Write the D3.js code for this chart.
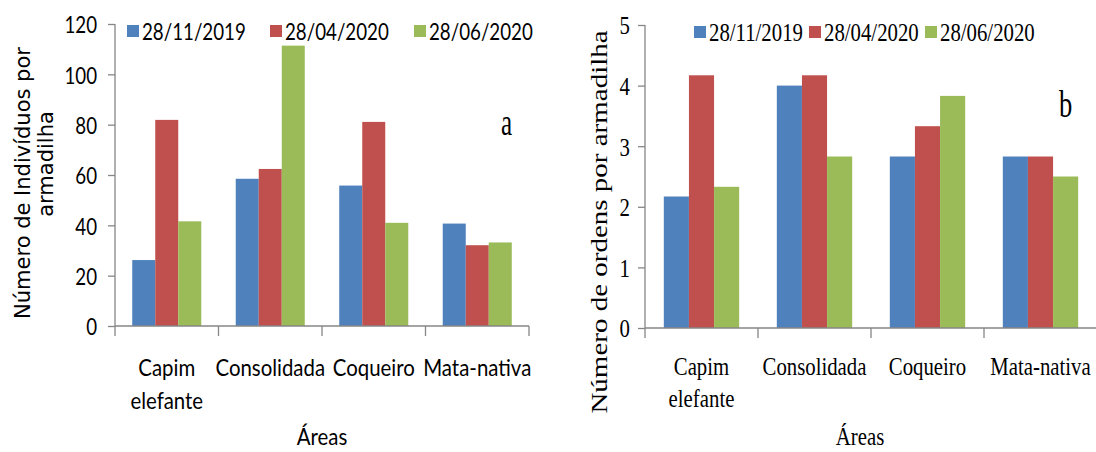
<!DOCTYPE html>
<html>
<head>
<meta charset="utf-8">
<script src="https://cdn.jsdelivr.net/npm/d3@7"></script>
<style>
  html, body { margin: 0; padding: 0; background: #fff; }
  svg { display: block; }
</style>
</head>
<body>
<svg id="chart" width="1096" height="452"></svg>
<script>
// ---- data ----
const categories = ["Capim elefante", "Consolidada", "Coqueiro", "Mata-nativa"];
const categoryLines = [["Capim", "elefante"], ["Consolidada"], ["Coqueiro"], ["Mata-nativa"]];
const dates = ["28/11/2019", "28/04/2020", "28/06/2020"];

// (a) individuals per trap
const individuos_20191128 = [26.2, 58.5, 55.8, 40.7];
const individuos_20200428 = [81.9, 62.4, 81.1, 32.1];
const individuos_20200628 = [41.6, 111.4, 41.0, 33.2];
const ticksA = [0, 20, 40, 60, 80, 100, 120];

// (b) orders per trap
const ordens_20191128 = [2.17, 4.0, 2.83, 2.83];
const ordens_20200428 = [4.17, 4.17, 3.33, 2.83];
const ordens_20200628 = [2.33, 2.83, 3.83, 2.5];
const ticksB = [0, 1, 2, 3, 4, 5];

const colors = ["#4F81BD", "#C0504D", "#9BBB59"];
const axisColor = "#868686";

const svg = d3.select("#chart");

function txt(g, x, y, s, o) {
  const t = g.append("text")
    .attr("transform", `translate(${x},${y})` + (o.rotate ? " scale(" + (o.sx || 1) + ",1) rotate(-90)" : " scale(" + (o.sx || 1) + ",1)"))
    .attr("font-family", o.font)
    .attr("font-size", o.size)
    .attr("text-anchor", o.anchor || "middle")
    .attr("fill", "#000")
    .text(s);
  if (o.baseline) t.attr("dominant-baseline", o.baseline);
  return t;
}

function panel(cfg) {
  const g = svg.append("g");
  const x0 = d3.scaleBand().domain(categories).range([cfg.left, cfg.right]).paddingInner(0).paddingOuter(0);
  const bw = x0.bandwidth();
  const x1 = d3.scaleBand().domain(dates)
    .range([bw * (1 - cfg.groupFrac) / 2, bw * (1 + cfg.groupFrac) / 2]).padding(0);
  const y = d3.scaleLinear().domain(cfg.domain).range([cfg.bottom, cfg.top]);

  // bars
  const rows = categories.map((c, i) => ({ c, vals: cfg.series.map((s, j) => ({ d: dates[j], v: s[i], k: j })) }));
  g.selectAll("g.grp").data(rows).join("g")
    .attr("transform", d => `translate(${x0(d.c)},0)`)
    .selectAll("rect").data(d => d.vals).join("rect")
    .attr("x", d => x1(d.d))
    .attr("width", x1.bandwidth())
    .attr("y", d => y(d.v))
    .attr("height", d => y(0) - y(d.v))
    .attr("fill", d => colors[d.k]);

  // y axis
  const ya = g.append("g").attr("transform", `translate(${cfg.left},0)`)
    .call(d3.axisLeft(y).tickValues(cfg.ticks).tickSize(cfg.ytick).tickFormat(d3.format("d")));
  ya.select(".domain").attr("stroke", axisColor).attr("stroke-width", 1.3)
    .attr("d", `M0,${cfg.top}V${cfg.bottom}`);
  ya.selectAll(".tick line").attr("stroke", axisColor).attr("stroke-width", 1.3);
  ya.selectAll(".tick text").each(function () {
    const t = d3.select(this);
    t.attr("x", null).attr("dy", null)
      .attr("transform", `translate(${-cfg.labelGap},0) scale(${cfg.numSx},1)`)
      .attr("dominant-baseline", "central")
      .attr("font-family", cfg.font).attr("font-size", cfg.tickSize)
      .attr("fill", "#000").attr("text-anchor", "end");
  });

  // x axis
  const xa = g.append("g").attr("transform", `translate(0,${cfg.bottom})`);
  xa.append("line").attr("x1", cfg.left).attr("x2", cfg.right).attr("y1", 0).attr("y2", 0)
    .attr("stroke", axisColor).attr("stroke-width", 1.3);
  const edges = categories.map(c => x0(c)).concat([cfg.right]);
  xa.selectAll("line.tk").data(edges).join("line").attr("class", "tk")
    .attr("x1", d => d).attr("x2", d => d).attr("y1", 0).attr("y2", cfg.xtick)
    .attr("stroke", axisColor).attr("stroke-width", 1.3);

  // category labels
  categories.forEach((c, i) => {
    categoryLines[i].forEach((ln, k) => {
      txt(g, x0(c) + bw / 2, cfg.catY[k], ln, { font: cfg.font, size: cfg.catSize, sx: cfg.txtSx, baseline: "central" });
    });
  });

  // axis titles
  txt(g, cfg.xTitle[0], cfg.xTitle[1], "Áreas", { font: cfg.font, size: cfg.catSize, sx: cfg.txtSx, baseline: "central" });
  cfg.yTitle.forEach(l => {
    txt(g, l.x, l.y, l.s, { font: cfg.yFont, size: cfg.ySize, sx: cfg.ySx, rotate: true });
  });

  // legend
  dates.forEach((d, j) => {
    const lx = cfg.legendX[j];
    g.append("rect").attr("x", lx).attr("y", cfg.legendY - cfg.sq / 2).attr("width", cfg.sq).attr("height", cfg.sq)
      .attr("fill", colors[j]);
    txt(g, lx + cfg.sq + 3, cfg.legendY, d, { font: cfg.font, size: cfg.legSize, sx: cfg.numSx, anchor: "start", baseline: "central" });
  });

  // panel letter
  txt(g, cfg.letter.x, cfg.letter.y, cfg.letter.s, { font: "Liberation Serif", size: cfg.letter.size, sx: cfg.letter.sx, anchor: "start" });
}

panel({
  series: [individuos_20191128, individuos_20200428, individuos_20200628],
  domain: [0, 120], ticks: ticksA,
  left: 115, right: 529, top: 24, bottom: 326,
  groupFrac: 0.667, ytick: 7, xtick: 10, labelGap: 18,
  font: "Lato", tickSize: 24, numSx: 0.78, txtSx: 0.85, catSize: 24,
  catY: [367, 400], xTitle: [322, 436],
  yFont: "DejaVu Sans", ySize: 21, ySx: 1,
  yTitle: [{ s: "Número de Indivíduos por", x: 30, y: 183 }, { s: "armadilha", x: 53, y: 164 }],
  legendX: [127, 270, 414], legendY: 31, sq: 12, legSize: 24,
  letter: { s: "a", x: 501, y: 135, size: 38, sx: 0.66 }
});

panel({
  series: [ordens_20191128, ordens_20200428, ordens_20200628],
  domain: [0, 5], ticks: ticksB,
  left: 645, right: 1097, top: 25, bottom: 328,
  groupFrac: 0.667, ytick: 7, xtick: 10, labelGap: 15,
  font: "Liberation Serif", tickSize: 26, numSx: 0.8, txtSx: 0.8, catSize: 26,
  catY: [366, 398], xTitle: [860, 436],
  yFont: "Liberation Serif", ySize: 29, ySx: 0.78,
  yTitle: [{ s: "Número de ordens por armadilha", x: 607, y: 222 }],
  legendX: [694, 809, 925], legendY: 32, sq: 12, legSize: 26,
  letter: { s: "b", x: 1059, y: 117, size: 38, sx: 0.7 }
});
</script>
</body>
</html>
